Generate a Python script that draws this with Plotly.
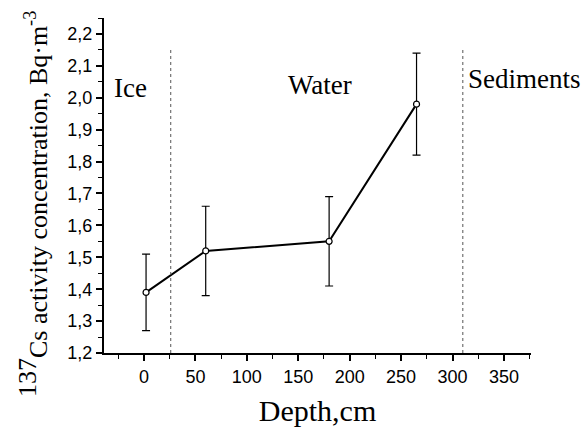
import plotly.graph_objects as go

depth = [2, 60, 180, 265]
conc = [1.39, 1.52, 1.55, 1.98]
err = [0.12, 0.14, 0.14, 0.16]
boundaries = [26, 310]
zone_labels = ["Ice", "Water", "Sediments"]
zone_x = [-13, 171, 313]
zone_y = [2.03, 2.04, 2.06]
y_ticks = [1.2, 1.3, 1.4, 1.5, 1.6, 1.7, 1.8, 1.9, 2.0, 2.1, 2.2]
x_ticks = [0, 50, 100, 150, 200, 250, 300, 350]

serif = "Liberation Serif, Times New Roman, serif"
sans = "Liberation Sans, Arial, sans-serif"

fig = go.Figure()
fig.add_trace(go.Scatter(
    x=depth, y=conc, mode="lines+markers",
    line=dict(color="black", width=2),
    marker=dict(symbol="circle", size=6, color="white", line=dict(color="black", width=1.2)),
    error_y=dict(type="data", array=err, visible=True, color="black", thickness=1.2, width=4),
    showlegend=False,
))

for b in boundaries:
    fig.add_shape(type="line", x0=b, x1=b, y0=1.2, y1=2.15, xref="x", yref="y",
                  line=dict(color="#555555", width=1, dash="dot"))

anchors = ["center", "center", "left"]
for lab, zx, zy, an in zip(zone_labels, zone_x, zone_y, anchors):
    fig.add_annotation(x=zx, y=zy, xref="x", yref="y", text=lab, showarrow=False,
                       xanchor=an, yanchor="middle", font=dict(family=serif, size=27, color="black"))

fig.add_annotation(
    x=-0.166, y=0.445, xref="paper", yref="paper", textangle=-90,
    text='<sup><span style="font-size:26px">137</span></sup>Cs activity concentration, Bq·m<sup>-3</sup>',
    showarrow=False, xanchor="center", yanchor="middle",
    font=dict(family=serif, size=26, color="black"))

fig.update_layout(
    width=583, height=427,
    margin=dict(l=104, r=52, t=18, b=74, autoexpand=False),
    paper_bgcolor="white", plot_bgcolor="white",
    separators=",.",
    font=dict(family=sans, size=18, color="black"),
    xaxis=dict(
        range=[-38.9, 376.3], tickvals=x_ticks, ticks="outside", ticklen=6, tickwidth=1.5,
        tickcolor="black", showline=True, linecolor="black", linewidth=2, showgrid=False,
        zeroline=False, mirror=False, automargin=False,
        minor=dict(dtick=25, tick0=0, ticks="outside", ticklen=4, tickwidth=1.2, tickcolor="black"),
        title=dict(text="Depth,cm", font=dict(family=serif, size=30, color="black"), standoff=20),
        tickfont=dict(family=sans, size=18),
    ),
    yaxis=dict(
        range=[1.2, 2.25], tickvals=y_ticks, tickformat=".1f", ticks="outside", ticklen=6,
        tickwidth=1.5, tickcolor="black", showline=True, linecolor="black", linewidth=2,
        showgrid=False, zeroline=False, mirror=False, automargin=False,
        minor=dict(dtick=0.05, tick0=1.2, ticks="outside", ticklen=4, tickwidth=1.2, tickcolor="black"),
        tickfont=dict(family=sans, size=18),
    ),
)

fig.write_html("out.html")
